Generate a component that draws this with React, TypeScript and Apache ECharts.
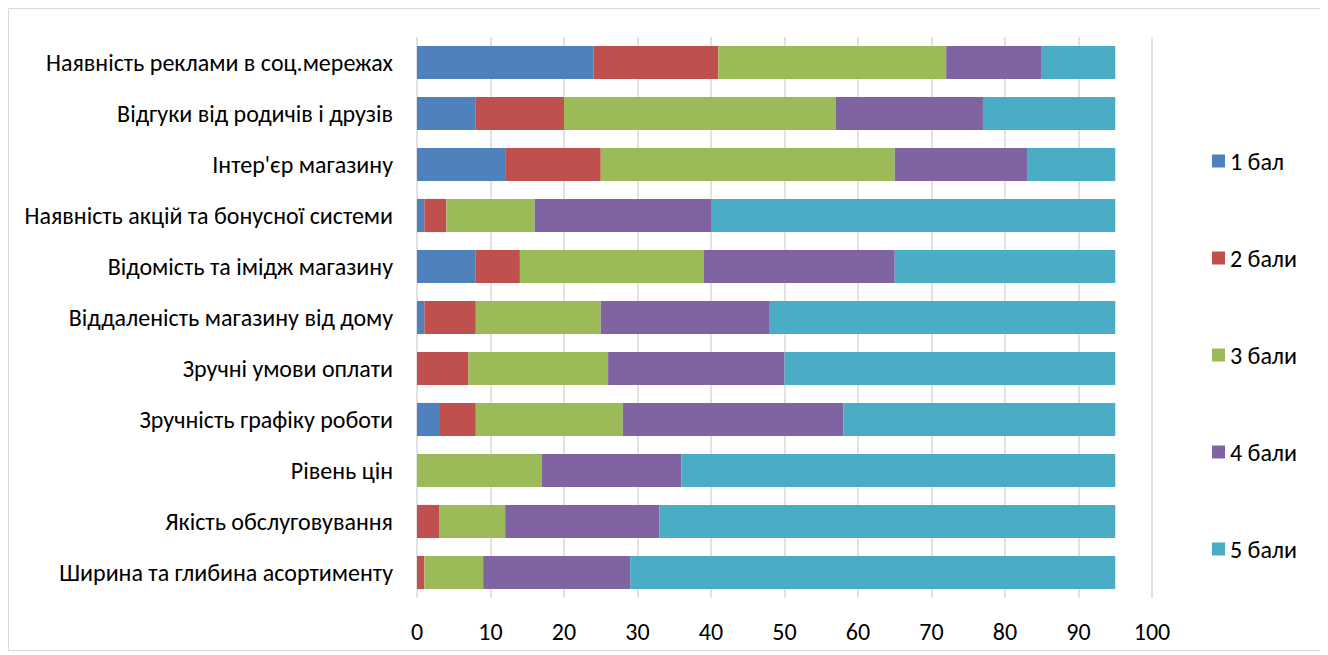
import React, { useEffect, useRef } from "react";
import * as echarts from "echarts";

const categories = [
  "Наявність реклами в соц.мережах",
  "Відгуки від родичів і друзів",
  "Інтер'єр магазину",
  "Наявність акцій та бонусної системи",
  "Відомість та імідж магазину",
  "Віддаленість магазину від дому",
  "Зручні умови оплати",
  "Зручність графіку роботи",
  "Рівень цін",
  "Якість обслуговування",
  "Ширина та глибина асортименту",
];

const seriesNames = ["1 бал", "2 бали", "3 бали", "4 бали", "5 бали"];

const score1 = [24, 8, 12, 1, 8, 1, 0, 3, 0, 0, 0];
const score2 = [17, 12, 13, 3, 6, 7, 7, 5, 0, 3, 1];
const score3 = [31, 37, 40, 12, 25, 17, 19, 20, 17, 9, 8];
const score4 = [13, 20, 18, 24, 26, 23, 24, 30, 19, 21, 20];
const score5 = [10, 18, 12, 55, 30, 47, 45, 37, 59, 62, 66];

const colors = ["#4F81BD", "#C0504D", "#9BBB59", "#8064A2", "#4BACC6"];

const FONT = "Calibri, Carlito, 'Open Sans', sans-serif";
const FONT_SIZE = 24;

export default function App() {
  const ref = useRef<HTMLDivElement>(null);

  useEffect(() => {
    if (!ref.current) return;
    const chart = echarts.init(ref.current, undefined, { renderer: "svg" });
    const values = [score1, score2, score3, score4, score5];
    chart.setOption({
      animation: false,
      textStyle: { fontFamily: FONT },
      graphic: [
        {
          type: "rect",
          shape: { x: 0.5, y: 0.5, width: 1315, height: 642 },
          style: { fill: "none", stroke: "#d9d9d9", lineWidth: 1 },
          silent: true,
        },
      ],
      grid: { left: 409, right: 172, top: 29, bottom: 53 },
      legend: {
        orient: "vertical",
        left: 1199,
        top: 136,
        itemWidth: 13,
        itemHeight: 13,
        itemGap: 73,
        icon: "rect",
        textStyle: { fontFamily: FONT, fontSize: FONT_SIZE, color: "#000" },
        data: seriesNames,
      },
      xAxis: {
        type: "value",
        min: 0,
        max: 100,
        interval: 10,
        axisLine: { show: false },
        axisTick: { show: false },
        splitLine: { show: true, lineStyle: { color: "#d9d9d9", width: 1.5 } },
        axisLabel: { fontFamily: FONT, fontSize: FONT_SIZE, color: "#000", margin: 21 },
      },
      yAxis: {
        type: "category",
        inverse: true,
        data: categories,
        axisLine: { show: false },
        axisTick: { show: false },
        axisLabel: { fontFamily: FONT, fontSize: FONT_SIZE, color: "#000", margin: 24 },
      },
      series: seriesNames.map((name, i) => ({
        name,
        type: "bar",
        stack: "total",
        barWidth: "65%",
        data: values[i],
        itemStyle: { color: colors[i] },
      })),
    });
    return () => chart.dispose();
  }, []);

  return <div ref={ref} style={{ width: 1316, height: 643 }} />;
}
